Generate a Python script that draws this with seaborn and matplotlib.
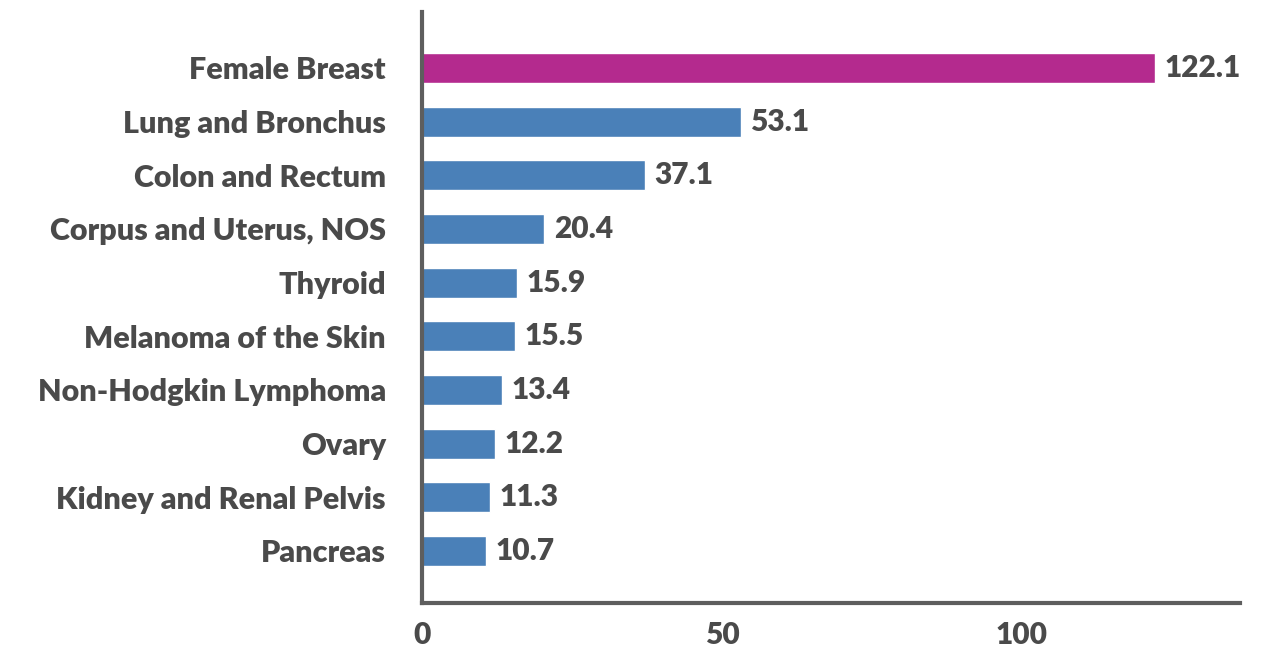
import matplotlib
matplotlib.use("Agg")
import matplotlib.pyplot as plt
import seaborn as sns
import pandas as pd

# Data
sites = ["Female Breast", "Lung and Bronchus", "Colon and Rectum",
         "Corpus and Uterus, NOS", "Thyroid", "Melanoma of the Skin",
         "Non-Hodgkin Lymphoma", "Ovary", "Kidney and Renal Pelvis", "Pancreas"]
rates = [122.1, 53.1, 37.1, 20.4, 15.9, 15.5, 13.4, 12.2, 11.3, 10.7]
bar_colors = ["#B42A8E"] + ["#4A80B8"] * 9

df = pd.DataFrame({"site": sites, "rate": rates})

sns.set_style("white")
plt.rcParams["font.family"] = ["Lato", "DejaVu Sans"]
text_color = "#4A4A4A"
axis_color = "#5E5E5E"

fig = plt.figure(figsize=(12.65, 6.54), dpi=100)
ax = fig.add_axes([0.3336, 0.078, 0.6464, 0.904])

sns.barplot(data=df, x="rate", y="site", hue="site", palette=bar_colors,
            legend=False, width=0.56, saturation=1, ax=ax)

for i, v in enumerate(rates):
    ax.text(v + 1.6, i, f"{v:.1f}", va="center", ha="left",
            fontsize=21.5, fontweight="heavy", color=text_color)

ax.set_xlim(0, 136.3)
ax.set_ylim(9.97, -1.045)
ax.set_xticks([0, 25, 50, 75, 100, 125])
ax.set_xticklabels(["0", "", "50", "", "100", ""])
ax.set_xlabel("")
ax.set_ylabel("")

for s in ["top", "right"]:
    ax.spines[s].set_visible(False)
for s in ["left", "bottom"]:
    ax.spines[s].set_color(axis_color)
    ax.spines[s].set_linewidth(3)

ax.tick_params(axis="x", direction="inout", length=10, width=3, color=axis_color,
               labelsize=21.5, labelcolor=text_color, pad=8)
ax.tick_params(axis="y", direction="out", length=7, width=2.5, color=axis_color,
               labelsize=22, labelcolor=text_color, pad=19)
for lab in ax.get_xticklabels() + ax.get_yticklabels():
    lab.set_fontweight("heavy")

fig.savefig("out.png", dpi=100)
